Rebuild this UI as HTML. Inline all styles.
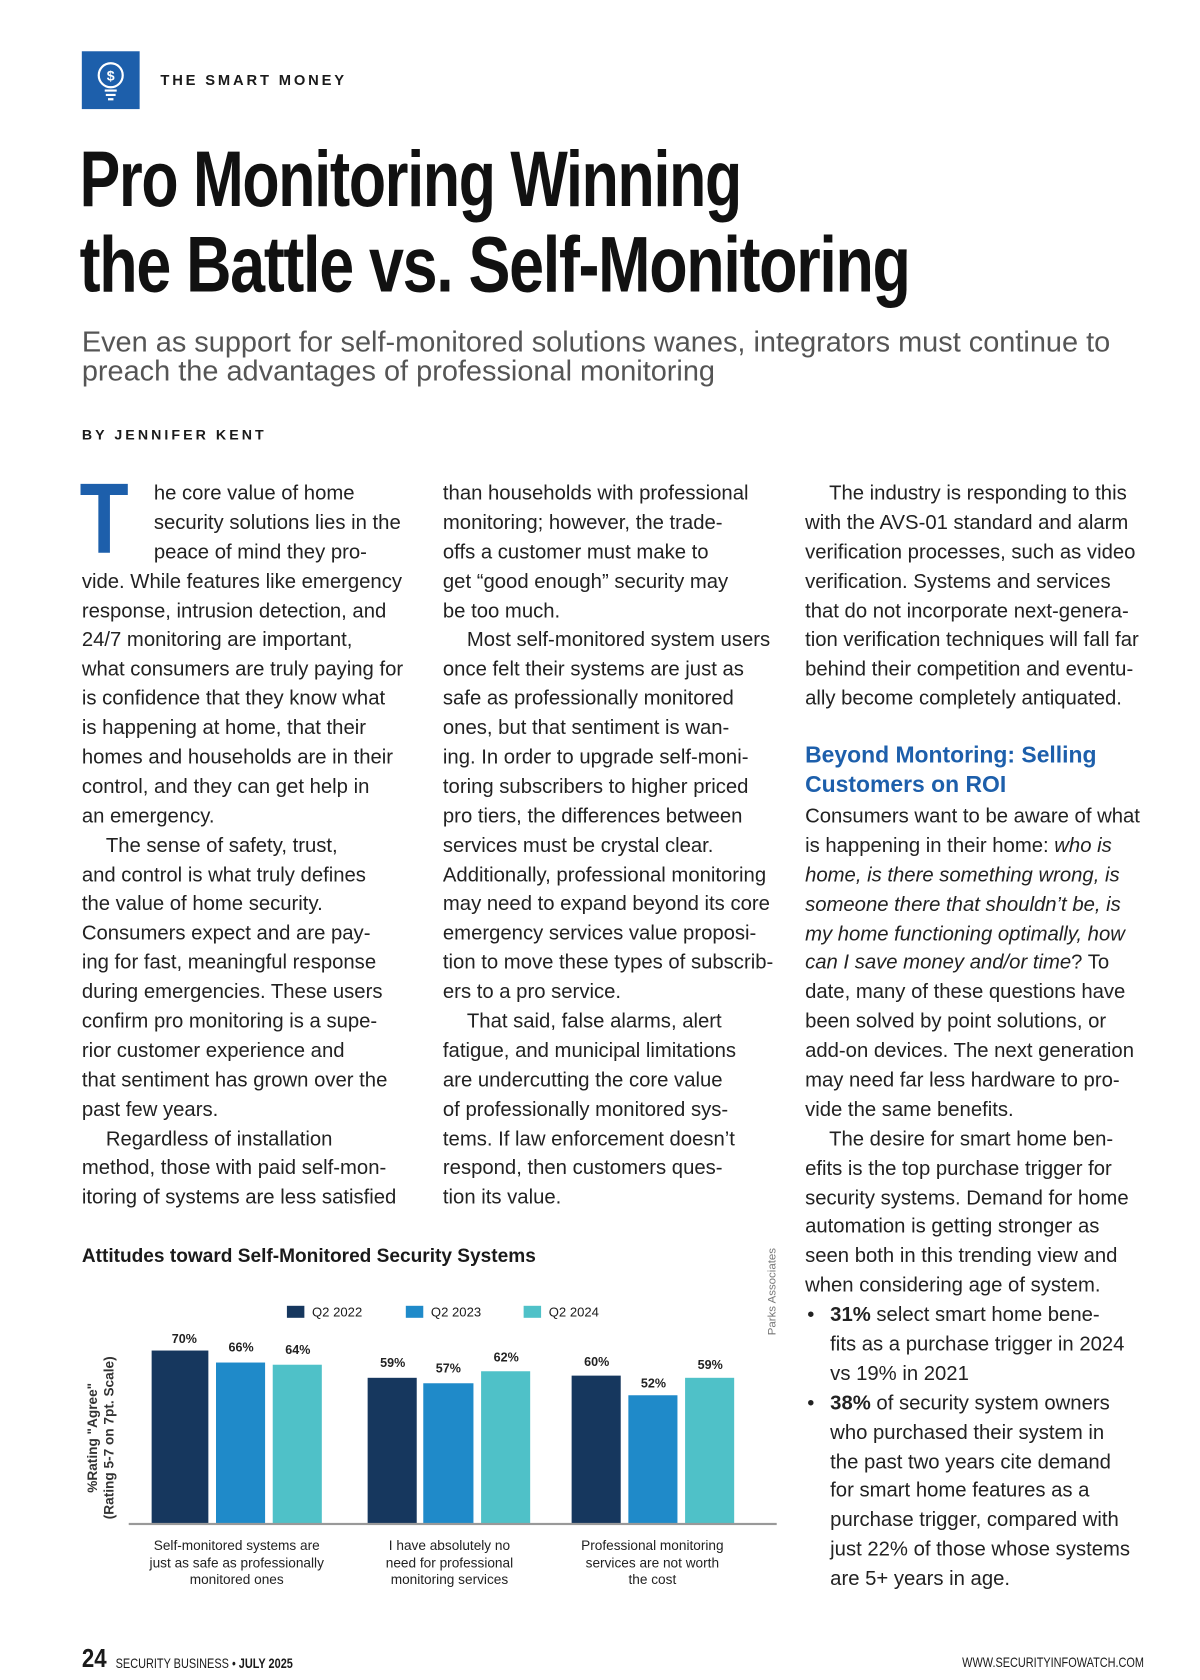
<!DOCTYPE html>
<html><head><meta charset="utf-8"><style>
html,body{margin:0;padding:0;background:#fff;}
body{width:1200px;height:1680px;overflow:hidden;position:relative;}
#p{position:absolute;left:0;top:0;width:1100px;height:1540px;transform:scale(1.0909);transform-origin:0 0;font-family:"Liberation Sans",sans-serif;color:#1a1a1a;}
.a{position:absolute;white-space:nowrap;}
.col{position:absolute;font-size:18.6px;line-height:26.9px;white-space:nowrap;color:#222;}
.col div{height:26.9px;}
.in{padding-left:22px;}
.t{font-weight:bold;font-size:72px;letter-spacing:-1.5px;color:#111;line-height:78px;transform-origin:0 0;}
.bar{position:absolute;}
.v{position:absolute;font-size:11.5px;font-weight:bold;width:50px;text-align:center;color:#222;}
.cat{position:absolute;font-size:12.5px;line-height:15.5px;text-align:center;width:190px;color:#222;}
.lg{position:absolute;top:1196px;font-size:12px;}
.lg span{display:inline-block;width:16px;height:11px;vertical-align:-1px;margin-right:7px;}
</style></head><body><div id="p">
<div class="a" style="left:75px;top:47px;width:53px;height:53px;background:#1d5fab;">
<svg width="53" height="53" viewBox="0 0 53 53"><circle cx="26.5" cy="22" r="11" fill="none" stroke="#fff" stroke-width="2"/><text x="26.5" y="27" fill="#fff" font-size="13" font-weight="bold" text-anchor="middle" font-family="Liberation Sans">$</text><line x1="21" y1="36" x2="32" y2="36" stroke="#fff" stroke-width="2"/><line x1="22" y1="40" x2="31" y2="40" stroke="#fff" stroke-width="2"/><line x1="24" y1="44" x2="29" y2="44" stroke="#fff" stroke-width="2"/></svg></div>
<div class="a" style="left:147px;top:66px;font-size:13.5px;font-weight:bold;letter-spacing:2.6px;">THE SMART MONEY</div>
<div class="a t" style="left:73px;top:126px;transform:scaleX(0.775);">Pro Monitoring Winning</div>
<div class="a t" style="left:73px;top:204px;transform:scaleX(0.8);">the Battle vs. Self-Monitoring</div>
<div class="a" style="left:75px;top:300px;font-size:26.5px;line-height:27px;color:#555;">Even as support for self-monitored solutions wanes, integrators must continue to<br>preach the advantages of professional monitoring</div>
<div class="a" style="left:75px;top:391px;font-size:13px;font-weight:bold;letter-spacing:2.8px;">BY JENNIFER KENT</div>
<div class="a" style="left:73px;top:430px;font-size:92px;line-height:92px;color:#1d5fab;font-weight:bold;transform:scaleX(0.8);transform-origin:0 0;">T</div>
<div class="col" style="left:75px;top:439px;">
<div style="padding-left:66px">he core value of home</div><div style="padding-left:66px">security solutions lies in the</div><div style="padding-left:66px">peace of mind they pro-</div>
<div>vide. While features like emergency</div><div>response, intrusion detection, and</div><div>24/7 monitoring are important,</div><div>what consumers are truly paying for</div><div>is confidence that they know what</div><div>is happening at home, that their</div><div>homes and households are in their</div><div>control, and they can get help in</div><div>an emergency.</div>
<div class="in">The sense of safety, trust,</div><div>and control is what truly defines</div><div>the value of home security.</div><div>Consumers expect and are pay-</div><div>ing for fast, meaningful response</div><div>during emergencies. These users</div><div>confirm pro monitoring is a supe-</div><div>rior customer experience and</div><div>that sentiment has grown over the</div><div>past few years.</div>
<div class="in">Regardless of installation</div><div>method, those with paid self-mon-</div><div>itoring of systems are less satisfied</div></div>
<div class="col" style="left:406px;top:439px;">
<div>than households with professional</div><div>monitoring; however, the trade-</div><div>offs a customer must make to</div><div>get “good enough” security may</div><div>be too much.</div>
<div class="in">Most self-monitored system users</div><div>once felt their systems are just as</div><div>safe as professionally monitored</div><div>ones, but that sentiment is wan-</div><div>ing. In order to upgrade self-moni-</div><div>toring subscribers to higher priced</div><div>pro tiers, the differences between</div><div>services must be crystal clear.</div><div>Additionally, professional monitoring</div><div>may need to expand beyond its core</div><div>emergency services value proposi-</div><div>tion to move these types of subscrib-</div><div>ers to a pro service.</div>
<div class="in">That said, false alarms, alert</div><div>fatigue, and municipal limitations</div><div>are undercutting the core value</div><div>of professionally monitored sys-</div><div>tems. If law enforcement doesn’t</div><div>respond, then customers ques-</div><div>tion its value.</div></div>
<div class="col" style="left:738px;top:439px;">
<div class="in">The industry is responding to this</div><div>with the AVS-01 standard and alarm</div><div>verification processes, such as video</div><div>verification. Systems and services</div><div>that do not incorporate next-genera-</div><div>tion verification techniques will fall far</div><div>behind their competition and eventu-</div><div>ally become completely antiquated.</div></div>
<div class="a" style="left:738px;top:679px;font-size:21px;line-height:27px;font-weight:bold;color:#1d5fab;">Beyond Montoring: Selling<br>Customers on ROI</div>
<div class="col" style="left:738px;top:735px;">
<div>Consumers want to be aware of what</div><div>is happening in their home: <i>who is</i></div><div><i>home, is there something wrong, is</i></div><div><i>someone there that shouldn’t be, is</i></div><div><i>my home functioning optimally, how</i></div><div><i>can I save money and/or time</i>? To</div><div>date, many of these questions have</div><div>been solved by point solutions, or</div><div>add-on devices. The next generation</div><div>may need far less hardware to pro-</div><div>vide the same benefits.</div>
<div class="in">The desire for smart home ben-</div><div>efits is the top purchase trigger for</div><div>security systems. Demand for home</div><div>automation is getting stronger as</div><div>seen both in this trending view and</div><div>when considering age of system.</div>
<div style="position:relative;padding-left:23px"><span style="position:absolute;left:2px">•</span><b>31%</b> select smart home bene-</div><div style="padding-left:23px">fits as a purchase trigger in 2024</div><div style="padding-left:23px">vs 19% in 2021</div>
<div style="position:relative;padding-left:23px"><span style="position:absolute;left:2px">•</span><b>38%</b> of security system owners</div><div style="padding-left:23px">who purchased their system in</div><div style="padding-left:23px">the past two years cite demand</div><div style="padding-left:23px">for smart home features as a</div><div style="padding-left:23px">purchase trigger, compared with</div><div style="padding-left:23px">just 22% of those whose systems</div><div style="padding-left:23px">are 5+ years in age.</div></div>
<div class="a" style="left:75px;top:1141px;font-size:17.5px;font-weight:bold;">Attitudes toward Self-Monitored Security Systems</div>
<div class="a" style="left:668px;top:1178px;font-size:10.5px;color:#777;transform:rotate(-90deg);transform-origin:center;width:80px;text-align:center;">Parks Associates</div>
<div class="lg" style="left:263px;"><span style="background:#16375e"></span>Q2 2022</div>
<div class="lg" style="left:372px;"><span style="background:#1f8ac9"></span>Q2 2023</div>
<div class="lg" style="left:480px;"><span style="background:#4fc1c8"></span>Q2 2024</div>
<div class="a" style="left:13px;top:1303px;transform:rotate(-90deg);font-size:12.5px;font-weight:bold;line-height:15px;text-align:center;width:160px;color:#333;">%Rating "Agree"<br>(Rating 5-7 on 7pt. Scale)</div>
<div class="bar" style="left:139px;top:1238px;width:52px;height:159px;background:#16375e"></div>
<div class="bar" style="left:198px;top:1249px;width:45px;height:148px;background:#1f8ac9"></div>
<div class="bar" style="left:250px;top:1251px;width:45px;height:146px;background:#4fc1c8"></div>
<div class="bar" style="left:337px;top:1263px;width:45px;height:134px;background:#16375e"></div>
<div class="bar" style="left:388px;top:1268px;width:46px;height:129px;background:#1f8ac9"></div>
<div class="bar" style="left:441px;top:1257px;width:45px;height:140px;background:#4fc1c8"></div>
<div class="bar" style="left:524px;top:1261px;width:45px;height:136px;background:#16375e"></div>
<div class="bar" style="left:576px;top:1279px;width:45px;height:118px;background:#1f8ac9"></div>
<div class="bar" style="left:628px;top:1263px;width:45px;height:134px;background:#4fc1c8"></div>
<div class="bar" style="left:118px;top:1396px;width:594px;height:2px;background:#999"></div>
<div class="v" style="left:144px;top:1222px">70%</div><div class="v" style="left:196px;top:1230px">66%</div><div class="v" style="left:248px;top:1232px">64%</div>
<div class="v" style="left:335px;top:1244px">59%</div><div class="v" style="left:386px;top:1249px">57%</div><div class="v" style="left:439px;top:1239px">62%</div>
<div class="v" style="left:522px;top:1243px">60%</div><div class="v" style="left:574px;top:1263px">52%</div><div class="v" style="left:626px;top:1246px">59%</div>
<div class="cat" style="left:122px;top:1410px">Self-monitored systems are<br>just as safe as professionally<br>monitored ones</div>
<div class="cat" style="left:317px;top:1410px">I have absolutely no<br>need for professional<br>monitoring services</div>
<div class="cat" style="left:503px;top:1410px">Professional monitoring<br>services are not worth<br>the cost</div>
<div class="a" style="left:75px;top:1507px;font-size:24px;font-weight:bold;transform:scaleX(0.85);transform-origin:0 0;">24</div>
<div class="a" style="left:106px;top:1517px;font-size:13px;transform:scaleX(0.77);transform-origin:0 0;">SECURITY BUSINESS • <b>JULY 2025</b></div>
<div class="a" style="left:882px;top:1517px;font-size:12.5px;transform:scaleX(0.8);transform-origin:0 0;">WWW.SECURITYINFOWATCH.COM</div>
</div></body></html>
